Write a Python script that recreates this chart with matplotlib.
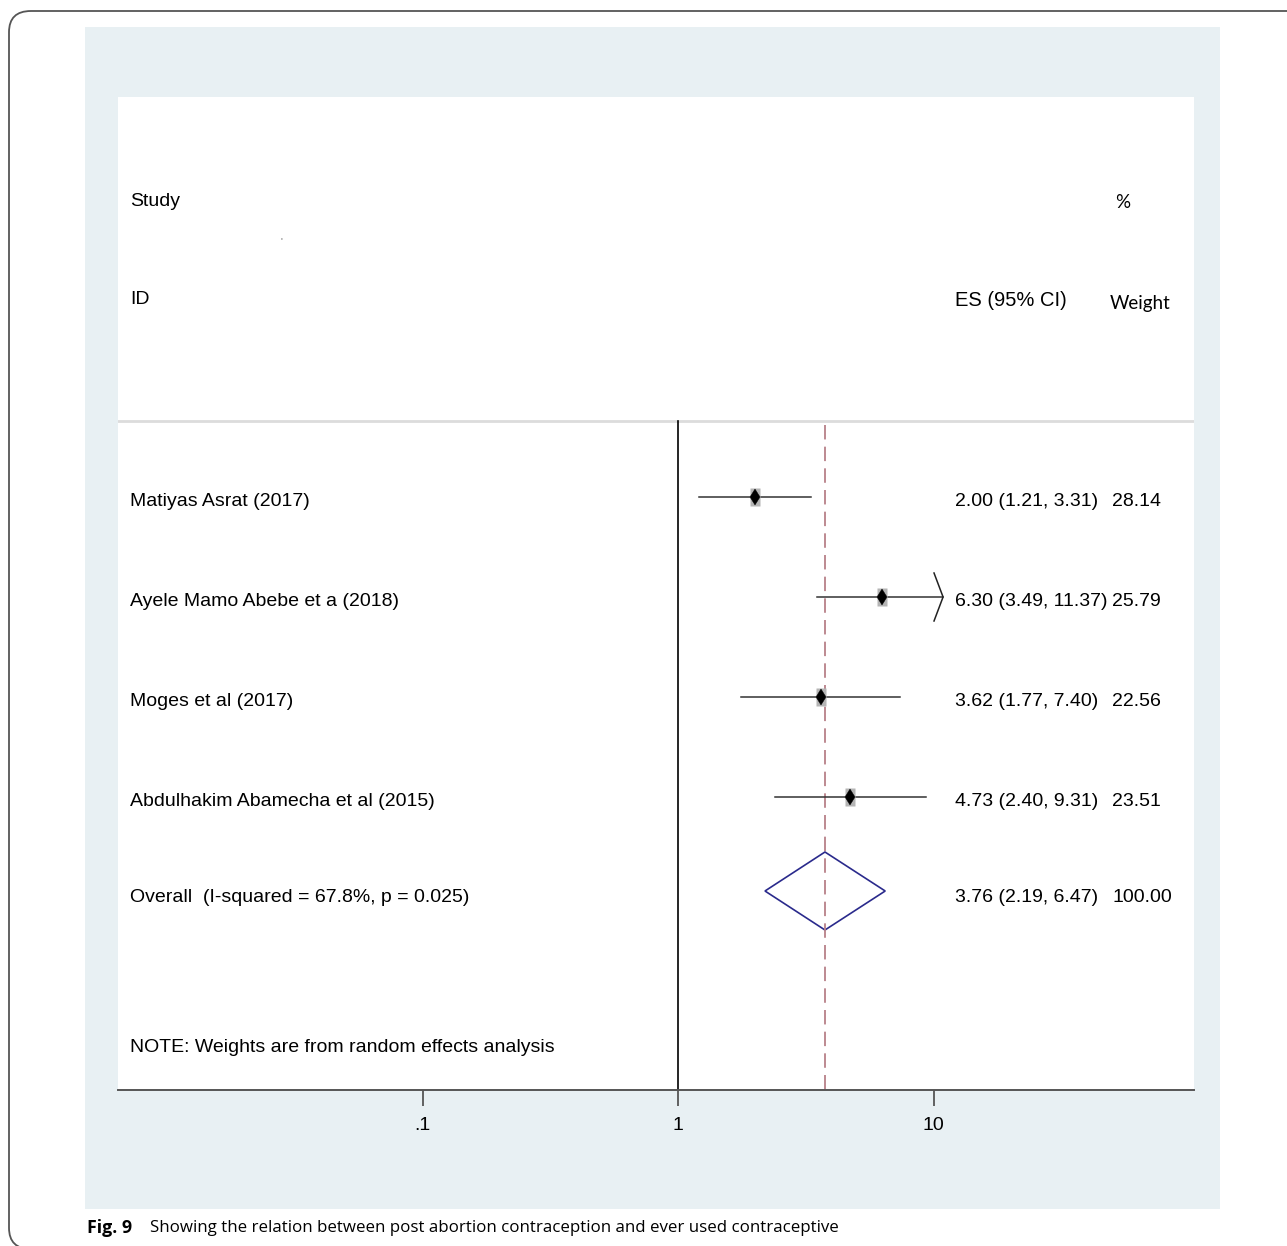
import matplotlib.pyplot as plt
from matplotlib.patches import Rectangle, FancyBboxPatch, Polygon
from matplotlib.transforms import blended_transform_factory
import numpy as np

studies = ['Matiyas Asrat (2017)', 'Ayele Mamo Abebe et a (2018)',
           'Moges et al (2017)', 'Abdulhakim Abamecha et al (2015)']
es = [2.00, 6.30, 3.62, 4.73]
lo = [1.21, 3.49, 1.77, 2.40]
hi = [3.31, 11.37, 7.40, 9.31]
weights = [28.14, 25.79, 22.56, 23.51]
overall = (3.76, 2.19, 6.47)
overall_label = 'Overall  (I-squared = 67.8%, p = 0.025)'
note = 'NOTE: Weights are from random effects analysis'
xticks = [0.1, 1, 10]
xticklabels = ['.1', '1', '10']
ci_max = 10.9  # Stata clips long CIs with an arrow

W, H = 1287, 1246
fig = plt.figure(figsize=(W / 100, H / 100), dpi=100)

def px(x, y):
    return x / W, 1 - y / H

# outer rounded frame
frame = FancyBboxPatch(px(9, 1249), (1400 - 9) / W, (1249 - 11) / H,
                       boxstyle='round,pad=0,rounding_size=0.017',
                       transform=fig.transFigure, fc='none', ec='#555555', lw=1.3,
                       zorder=-2)
fig.patches.append(frame)
# light panel
fig.patches.append(Rectangle(px(85, 1209), (1220 - 85) / W, (1209 - 27) / H,
                             transform=fig.transFigure, fc='#e8f0f3', ec='none',
                             zorder=-1))

l, b = px(118, 1090)
ax = fig.add_axes([l, b, (1194 - 118) / W, (1090 - 97) / H])
ax.set_facecolor('white')
ax.set_xscale('log')
ax.set_xlim(0.00643, 104.6)
ax.set_ylim(9.93, 0)
for s in ['top', 'left', 'right']:
    ax.spines[s].set_visible(False)
ax.spines['bottom'].set_color('#555555')
ax.spines['bottom'].set_linewidth(1.4)
ax.set_yticks([])
ax.set_xticks(xticks)
ax.set_xticklabels(xticklabels, fontsize=14, family='Liberation Sans')
ax.minorticks_off()
ax.tick_params(axis='x', length=11.5, width=1.3, color='#555555', pad=8)

tr = blended_transform_factory(ax.transAxes, ax.transData)
font = dict(family='Liberation Sans', fontsize=14, color='black', va='center')
font2 = dict(family='Lato', fontsize=13.5, color='black', va='center')

rows = np.arange(len(studies)) + 4
row_overall = 7.94
sep = 3.24

# headers
ax.text(0.011, 1.05, 'Study', transform=tr, **font)
ax.text(0.011, 2.03, 'ID', transform=tr, **font)
ax.text(0.778, 2.03, 'ES (95% CI)', transform=tr, family='Liberation Sans',
        fontsize=14.5, va='center')
ax.text(0.927, 1.06, '%', transform=tr, **font2)
ax.text(0.922, 2.06, 'Weight', transform=tr, **font2)
ax.text(0.1506, 1.43, "'", transform=tr, fontsize=5, color='#444444', va='center')

ax.plot([0, 1], [sep, sep], transform=tr, color='#dcdcdc', lw=2)
ax.plot([1, 1], [sep, 9.93], color='black', lw=1.2)
ax.plot([overall[0]] * 2, [sep + 0.04, 9.93], color='#b88088', lw=1.3,
        dashes=(8, 4))

box = [(-0.55, -1), (0.55, -1), (0.55, 1), (-0.55, 1)]
for r, name, e, a, c, w in zip(rows, studies, es, lo, hi, weights):
    right = min(c, ci_max)
    ax.plot([a, right], [r, r], color='#333333', lw=1.1)
    if c > ci_max:
        ax.plot([right / 1.085, right, right / 1.085], [r - 0.24, r, r + 0.24],
                color='#222222', lw=1.1)
    ax.plot(e, r, marker=box, ms=12.5, mfc='#b5b5b5', mec='none', ls='none')
    ax.plot(e, r, marker='d', ms=8, mfc='black', mec='black', mew=0.3,
            ls='none')
    ax.text(0.011, r + 0.04, name, transform=tr, **font)
    ax.text(0.778, r + 0.04, f'{e:.2f} ({a:.2f}, {c:.2f})', transform=tr, **font)
    ax.text(0.924, r + 0.04, f'{w:.2f}', transform=tr, **font)

oe, ol, oh = overall
dia = Polygon([(ol, row_overall), (oe, row_overall - 0.39), (oh, row_overall),
               (oe, row_overall + 0.39)], closed=True, fc='none', ec='#2a2a8c',
              lw=1.2)
ax.add_patch(dia)
ax.text(0.011, row_overall + 0.06, overall_label, transform=tr, **font)
ax.text(0.778, row_overall + 0.06, f'{oe:.2f} ({ol:.2f}, {oh:.2f})',
        transform=tr, **font)
ax.text(0.924, row_overall + 0.06, '100.00', transform=tr, **font)
ax.text(0.011, 9.5, note, transform=tr, **font)

# caption
fx, fy = px(87, 1228)
fig.text(fx, fy, 'Fig. 9', family='Open Sans', fontweight='bold',
         fontsize=12.8, va='center')
fig.text(fx + 63 / W, fy, 'Showing the relation between post abortion contraception '
         'and ever used contraceptive', family='Open Sans', fontsize=12.2, va='center')

fig.savefig('out.png', dpi=100)
